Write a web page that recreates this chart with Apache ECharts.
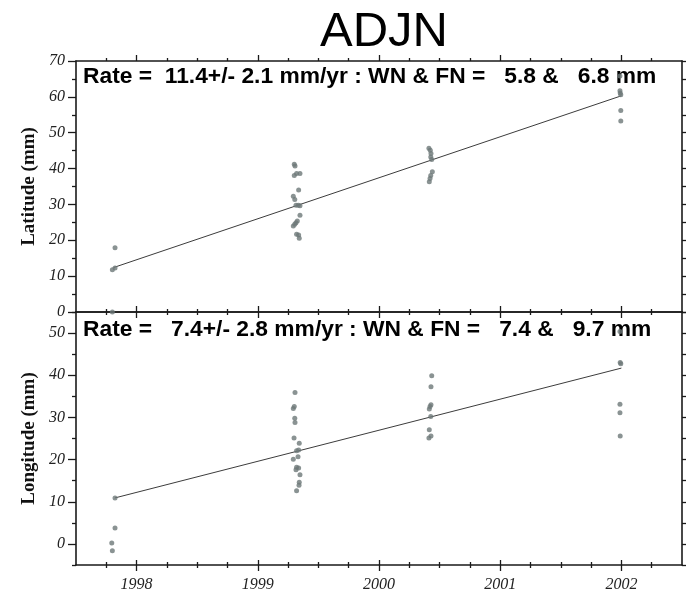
<!DOCTYPE html>
<html>
<head>
<meta charset="utf-8">
<script src="https://cdn.jsdelivr.net/npm/echarts@6/dist/echarts.min.js"></script>
<style>html,body{margin:0;padding:0;background:#fff}#c{width:686px;height:595px}</style>
</head>
<body>
<div id="c"></div>
<script>
// ---- data ----
const stationName = 'ADJN';
const latRateText = 'Rate =  11.4+/- 2.1 mm/yr : WN & FN =   5.8 &   6.8 mm';
const lonRateText = 'Rate =   7.4+/- 2.8 mm/yr : WN & FN =   7.4 &   9.7 mm';
const yearTicks = [1998, 1999, 2000, 2001, 2002];
const quarterTicks = [1997.75, 1998.25, 1998.5, 1998.75, 1999.25, 1999.5, 1999.75, 2000.25, 2000.5, 2000.75, 2001.25, 2001.5, 2001.75, 2002.25];
const latTicks = [0, 10, 20, 30, 40, 50, 60, 70];
const latMinor = [5, 15, 25, 35, 45, 55, 65];
const lonTicks = [0, 10, 20, 30, 40, 50];
const lonMinorTicks = [-5, 5, 15, 25, 35, 45, 55];

const latTimes = [1997.822, 1997.822, 1997.800, 1997.800,
  1999.301, 1999.307, 1999.301, 1999.320, 1999.348, 1999.337, 1999.293, 1999.305, 1999.315, 1999.334,
  1999.348, 1999.348, 1999.326, 1999.315, 1999.305, 1999.293, 1999.320, 1999.337, 1999.342,
  2000.412, 2000.423, 2000.429, 2000.427, 2000.435, 2000.440, 2000.427, 2000.421, 2000.415,
  2001.988, 2001.988, 2001.990, 2001.995, 2001.995, 2001.995];
const latValues = [17.9, 12.3, 11.8, 0.0,
  41.2, 40.7, 38.1, 38.6, 38.6, 34.0, 32.3, 31.4, 29.8, 29.8,
  29.6, 27.0, 25.4, 24.9, 24.5, 24.0, 21.7, 21.5, 20.6,
  45.7, 45.1, 44.2, 43.2, 42.5, 39.1, 38.1, 37.2, 36.3,
  65.8, 61.7, 61.1, 60.6, 56.2, 53.3];
const latTrendTimes = [1997.81, 2002.0];
const latTrendValues = [12.4, 60.3];

const lonTimes = [1997.822, 1997.822, 1997.795, 1997.800,
  1999.307, 1999.301, 1999.293, 1999.305, 1999.307, 1999.299, 1999.342, 1999.337, 1999.320,
  1999.332, 1999.293, 1999.320, 1999.337, 1999.315, 1999.348, 1999.342, 1999.340, 1999.320,
  2000.435, 2000.429, 2000.429, 2000.421, 2000.415, 2000.427, 2000.415, 2000.429, 2000.412,
  2001.988, 2001.990, 2001.995, 2001.988, 2001.988, 2001.990];
const lonValues = [10.9, 3.8, 0.2, -1.6,
  35.9, 32.6, 32.1, 29.8, 28.8, 25.1, 23.9, 22.3, 22.1,
  20.7, 20.1, 18.2, 18.0, 17.6, 16.4, 14.6, 13.9, 12.6,
  39.9, 37.3, 33.0, 32.6, 32.0, 30.2, 27.1, 25.6, 25.1,
  50.4, 43.0, 42.7, 33.1, 31.1, 25.6];
const lonTrendTimes = [1997.82, 2002.0];
const lonTrendValues = [10.9, 41.7];

// ---- styles ----
const FRAME = '#1a1a1a';
const DOT = '#6d7878';
const labelFont = {fontFamily: 'Liberation Serif', fontStyle: 'italic', fontSize: 16, color: '#222'};
const zip = (a, b) => a.map((v, i) => [v, b[i]]);

function xAx(grid, pos, ticks, len, showLine, labels, inside) {
  return {
    type: 'value', gridIndex: grid, position: pos, min: 1997.5, max: 2002.5,
    splitLine: {show: false},
    axisLine: {show: showLine, onZero: false, lineStyle: {color: FRAME, width: 1.6}},
    axisTick: {show: true, inside: !!inside, length: len, customValues: ticks, lineStyle: {color: FRAME, width: 1.3}},
    axisLabel: labels ? Object.assign({show: true, margin: 12, customValues: yearTicks, formatter: v => String(Math.round(v))}, labelFont) : {show: false}
  };
}
function yAx(grid, pos, min, max, ticks, len, showLine, labelVals, name) {
  const a = {
    type: 'value', gridIndex: grid, position: pos, min: min, max: max,
    splitLine: {show: false},
    axisLine: {show: showLine, onZero: false, lineStyle: {color: FRAME, width: 1.6}},
    axisTick: {show: true, length: len, customValues: ticks, lineStyle: {color: FRAME, width: 1.3}},
    axisLabel: labelVals ? Object.assign({show: true, margin: 11, customValues: labelVals}, labelFont) : {show: false}
  };
  if (name) {
    a.name = name; a.nameLocation = 'middle'; a.nameGap = 29;
    a.nameTextStyle = {fontFamily: 'Liberation Serif', fontWeight: 'bold', fontSize: 19, color: '#111'};
  }
  return a;
}

const chart = echarts.init(document.getElementById('c'), null, {renderer: 'canvas'});
chart.setOption({
  animation: false,
  backgroundColor: '#fff',
  title: {text: stationName, left: 379, top: 3, textAlign: 'center',
    textStyle: {fontFamily: 'Liberation Sans', fontWeight: 'normal', fontSize: 49, color: '#000'}},
  grid: [
    {left: 76, top: 61, width: 606, height: 251},
    {left: 76, top: 312, width: 606, height: 253}
  ],
  xAxis: [
    xAx(0, 'bottom', yearTicks, 6, true, false),
    xAx(0, 'bottom', quarterTicks, 3, false, false),
    xAx(0, 'top', yearTicks, 6, true, false),
    xAx(0, 'top', quarterTicks, 3, false, false),
    xAx(1, 'bottom', yearTicks, 6, true, true),
    xAx(1, 'bottom', quarterTicks, 3, false, false),
    xAx(1, 'top', yearTicks, 6, true, false),
    xAx(1, 'top', quarterTicks, 3, false, false),
    xAx(1, 'bottom', yearTicks, 5, false, false, true),
    xAx(1, 'bottom', quarterTicks, 3, false, false, true)
  ],
  yAxis: [
    yAx(0, 'left', 0, 70, latTicks, 8, true, latTicks, 'Latitude (mm)'),
    yAx(0, 'left', 0, 70, latMinor, 4, false, null),
    yAx(0, 'right', 0, 70, latTicks, 8, true, null),
    yAx(0, 'right', 0, 70, latMinor, 4, false, null),
    yAx(1, 'left', -5, 55, lonTicks, 8, true, lonTicks, 'Longitude (mm)'),
    yAx(1, 'left', -5, 55, lonMinorTicks, 4, false, null),
    yAx(1, 'right', -5, 55, lonTicks, 8, true, null),
    yAx(1, 'right', -5, 55, lonMinorTicks, 4, false, null)
  ],
  series: [
    {type: 'line', xAxisIndex: 0, yAxisIndex: 0, data: zip(latTrendTimes, latTrendValues), symbol: 'none',
      lineStyle: {color: '#3c3c3c', width: 1}, z: 3},
    {type: 'scatter', xAxisIndex: 0, yAxisIndex: 0, data: zip(latTimes, latValues), symbolSize: 5,
      itemStyle: {color: DOT}, z: 12, clip: false},
    {type: 'line', xAxisIndex: 4, yAxisIndex: 4, data: zip(lonTrendTimes, lonTrendValues), symbol: 'none',
      lineStyle: {color: '#3c3c3c', width: 1}, z: 3},
    {type: 'scatter', xAxisIndex: 4, yAxisIndex: 4, data: zip(lonTimes, lonValues), symbolSize: 5,
      itemStyle: {color: DOT}, z: 12, clip: false}
  ],
  graphic: [
    {type: 'text', x: 83, y: 77, z: 10, style: {text: latRateText, fill: '#000', textVerticalAlign: 'middle',
      font: 'bold 22.8px "Liberation Sans"'}},
    {type: 'text', x: 83, y: 330, z: 10, style: {text: lonRateText, fill: '#000', textVerticalAlign: 'middle',
      font: 'bold 22.8px "Liberation Sans"'}}
  ]
});
</script>
</body>
</html>
